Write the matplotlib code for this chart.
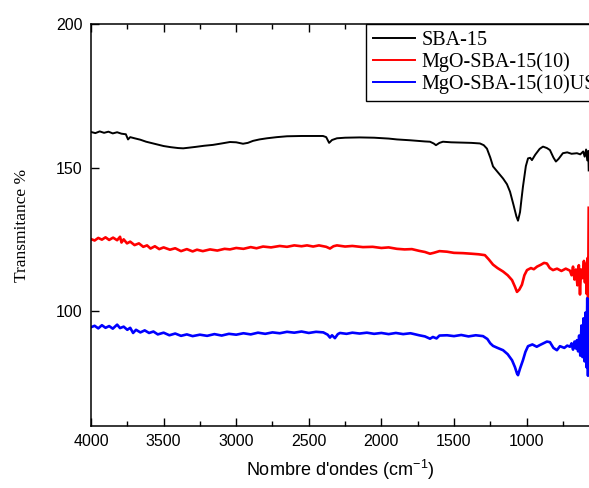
import matplotlib
matplotlib.use("Agg")
import matplotlib.pyplot as plt
from matplotlib.ticker import MultipleLocator

plt.rcParams['font.family'] = ['Liberation Sans', 'DejaVu Sans']
plt.rcParams['mathtext.default'] = 'regular'

# wavenumber (cm-1) / transmittance (%)
wn_sba = [4000, 3970, 3940, 3910, 3880, 3850, 3820, 3790, 3760, 3745, 3730, 3700,
          3660, 3620, 3580, 3540, 3500, 3450, 3400, 3365, 3330, 3280, 3220, 3160,
          3100, 3043, 3000, 2953, 2920, 2884, 2840, 2788, 2720, 2650, 2550, 2450,
          2402, 2380, 2360, 2340, 2306, 2250, 2150, 2050, 1950, 1893, 1800, 1700,
          1665, 1640, 1624, 1600, 1576, 1520, 1450, 1380, 1321, 1295, 1273, 1250,
          1231, 1200, 1162, 1135, 1114, 1090, 1070, 1059, 1045, 1035, 1025, 1005,
          990, 975, 963, 940, 910, 887, 860, 839, 815, 798, 780, 750,
          720, 690, 653, 630, 610, 600, 590, 582, 575, 572]
tr_sba = [162.4, 162.0, 162.6, 162.1, 162.5, 161.9, 162.3, 161.8, 161.6, 159.8, 160.6, 160.2,
          159.7, 159.0, 158.5, 158.0, 157.5, 157.1, 156.8, 156.7, 156.9, 157.2, 157.6, 157.9,
          158.4, 158.9, 158.8, 158.3, 158.6, 159.3, 159.8, 160.2, 160.6, 160.9, 161.0, 161.0,
          161.0, 160.6, 158.6, 159.6, 160.2, 160.4, 160.5, 160.4, 160.1, 159.8, 159.5, 159.1,
          159.0, 158.4, 157.8, 158.6, 159.0, 158.8, 158.7, 158.6, 158.4, 157.8, 156.6, 153.5,
          150.4, 148.5, 146.2, 144.2, 141.6, 137.0, 133.0, 131.5, 134.5, 139.0, 143.3, 150.5,
          153.2, 153.4, 152.6, 154.5, 156.5, 157.3, 156.8, 156.1, 153.5, 152.1, 153.0, 155.0,
          155.3, 154.8, 155.0, 154.6, 155.6, 153.8, 156.3, 152.5, 155.8, 149.0]

wn_mgo = [4000, 3975, 3950, 3925, 3900, 3875, 3848, 3820, 3800, 3790, 3775, 3752,
          3730, 3700, 3670, 3640, 3614, 3590, 3560, 3530, 3500, 3456, 3420, 3380,
          3340, 3300, 3270, 3230, 3180, 3130, 3080, 3043, 3000, 2950, 2900, 2860,
          2815, 2760, 2700, 2650, 2600, 2550, 2512, 2470, 2430, 2380, 2354, 2330,
          2306, 2250, 2200, 2127, 2060, 2000, 1950, 1893, 1840, 1790, 1740, 1700,
          1665, 1640, 1600, 1548, 1500, 1438, 1380, 1330, 1287, 1260, 1231, 1200,
          1162, 1130, 1100, 1080, 1066, 1050, 1032, 1015, 997, 970, 950, 928,
          900, 880, 860, 840, 818, 790, 760, 730, 701, 690, 680, 670,
          660, 650, 640, 632, 625, 615, 605, 598, 592, 586, 580, 576, 572]
tr_mgo = [125.1, 124.6, 125.5, 124.9, 125.7, 124.8, 125.6, 124.7, 125.9, 123.9, 125.0, 123.6,
          124.2, 123.0, 123.6, 122.4, 122.9, 121.8, 122.6, 121.6, 122.2, 121.4, 121.9, 120.9,
          121.6, 120.8, 121.4, 120.9, 121.5, 121.1, 121.7, 121.5, 122.0, 121.7, 122.3, 121.9,
          122.5, 122.2, 122.7, 122.4, 122.9, 122.6, 122.9, 122.5, 122.9, 122.4, 121.8, 122.6,
          122.9, 122.5, 122.7, 122.3, 122.4, 122.0, 122.2, 121.7, 121.5, 121.6, 121.0, 120.6,
          120.0, 120.3, 120.9, 120.7, 120.3, 120.2, 120.0, 119.8, 119.5, 118.0, 116.2, 115.0,
          113.8, 112.5, 110.8, 108.5, 106.7, 107.5, 109.2, 112.5, 114.3, 115.0, 114.6, 115.5,
          116.2, 116.8, 116.6, 115.0, 114.3, 114.8, 114.0, 114.8, 114.1, 112.5, 115.5, 111.0,
          114.5, 109.0, 116.0, 105.8, 114.5, 111.5, 117.5, 110.0, 116.5, 106.0, 118.5, 104.5, 136.0]

wn_us = [4000, 3975, 3950, 3925, 3900, 3875, 3850, 3820, 3800, 3775, 3750, 3730,
         3710, 3690, 3660, 3630, 3600, 3570, 3540, 3500, 3460, 3420, 3380, 3340,
         3300, 3250, 3200, 3150, 3100, 3050, 3000, 2950, 2900, 2850, 2800, 2750,
         2700, 2650, 2600, 2550, 2500, 2450, 2400, 2370, 2354, 2340, 2320, 2300,
         2285, 2240, 2200, 2150, 2100, 2050, 2000, 1950, 1900, 1850, 1800, 1782,
         1740, 1700, 1665, 1645, 1620, 1600, 1548, 1500, 1450, 1400, 1350, 1300,
         1270, 1250, 1231, 1200, 1162, 1130, 1100, 1080, 1066, 1059, 1045, 1025,
         1008, 990, 960, 930, 908, 880, 860, 839, 815, 791, 770, 740,
         720, 701, 690, 680, 670, 660, 653, 645, 638, 630, 622, 615,
         608, 600, 594, 588, 582, 577, 572]
tr_us = [94.4, 94.9, 94.0, 95.1, 94.2, 94.8, 93.9, 95.3, 94.1, 94.6, 93.5, 94.2,
         92.4, 93.5, 92.6, 93.3, 92.4, 92.9, 91.9, 92.5, 91.6, 92.2, 91.4, 91.9,
         91.3, 91.8, 91.4, 92.0, 91.5, 92.1, 91.8, 92.3, 91.9, 92.5, 92.1, 92.6,
         92.3, 92.8, 92.5, 92.9, 92.4, 92.8, 92.6, 91.8, 90.8, 91.6, 90.6, 92.0,
         92.4, 92.1, 92.5, 92.2, 92.5, 92.1, 92.4, 92.0, 92.4, 92.0, 92.3, 92.1,
         91.6, 91.2, 90.4, 91.0, 90.5, 91.5, 91.6, 91.3, 91.7, 91.2, 91.6, 91.3,
         90.3, 88.8, 87.9, 87.2, 86.4, 85.0, 82.9, 80.5, 78.3, 77.7, 80.0, 82.9,
         85.8, 87.8, 88.4, 87.6, 88.2, 88.9, 89.4, 89.2, 87.2, 86.4, 87.8, 87.2,
         88.0, 87.6, 88.8, 86.6, 89.4, 87.0, 89.9, 86.0, 91.5, 84.5, 95.0, 84.0,
         97.5, 82.5, 99.5, 80.5, 104.5, 77.5, 100.0]

labels = ['SBA-15', 'MgO-SBA-15(10)', 'MgO-SBA-15(10)US']

fig = plt.figure(figsize=(5.89, 4.88), dpi=100)
ax = fig.add_axes([91/589, 62/488, 498/589, 402/488])

ax.plot(wn_sba, tr_sba, color='black', lw=1.4, label=labels[0])
ax.plot(wn_mgo, tr_mgo, color='red', lw=1.9, label=labels[1])
ax.plot(wn_us, tr_us, color='blue', lw=1.9, label=labels[2])

ax.set_xlim(4000, 570)
ax.set_ylim(60, 200)
ax.xaxis.set_major_locator(MultipleLocator(500))
ax.xaxis.set_minor_locator(MultipleLocator(250))
ax.yaxis.set_major_locator(MultipleLocator(50))
ax.tick_params(which='both', direction='in', top=True, right=False, labelsize=11.5, width=1)
ax.tick_params(which='major', length=6, pad=6)
ax.tick_params(which='minor', length=3.5)
ax.spines['right'].set_visible(False)
for s in ['left', 'bottom', 'top']:
    ax.spines[s].set_linewidth(1.1)

fig.text(340/589, 18/488, "Nombre d'ondes (cm$^{-1}$)", ha='center', va='center', fontsize=13)
fig.text(22/589, 263/488, 'Transmitance %', rotation=90, ha='center', va='center',
         fontsize=12.5, family=['Liberation Serif'])

# legend runs past the right edge, as in the original (cropped) figure
leg = ax.legend(loc='upper left', bbox_to_anchor=(0.552, 1.0), borderaxespad=0,
                prop={'family': 'Liberation Serif', 'size': 14.5}, frameon=True,
                fancybox=False, edgecolor='black', framealpha=1,
                handlelength=2.1, handletextpad=0.3, labelspacing=0.1, borderpad=0.35)
for h in leg.get_lines():
    h.set_linewidth(1.4)
leg.get_frame().set_linewidth(1.0)

fig.savefig('out.png', dpi=100)
